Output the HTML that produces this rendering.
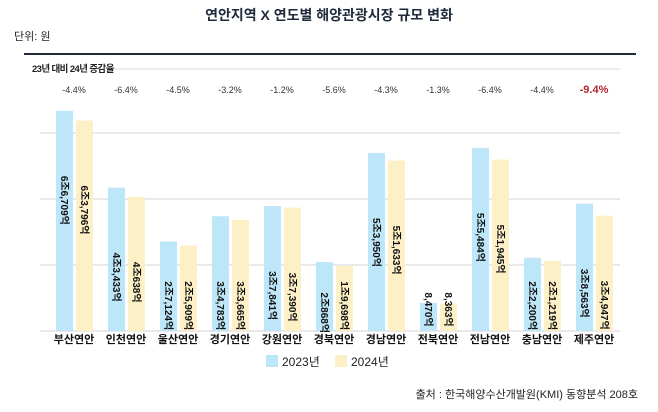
<!DOCTYPE html>
<html><head><meta charset="utf-8">
<style>
body{margin:0;background:#fff;}
svg text{font-family:"Liberation Sans","Noto Sans CJK KR",sans-serif;}
</style></head>
<body>
<svg width="658" height="407" viewBox="0 0 658 407">
<text x="329" y="20" text-anchor="middle" font-size="14" font-weight="bold" fill="#1f2a3a">연안지역 X 연도별 해양관광시장 규모 변화</text>
<text x="14" y="40" font-size="11" fill="#222">단위: 원</text>
<line x1="24" y1="54" x2="636" y2="54" stroke="#1f2a3a" stroke-width="2"/>
<line x1="98" y1="69" x2="620" y2="69" stroke="#e6e6e6" stroke-width="1.5"/>
<text x="32" y="72" font-size="9.5" font-weight="bold" fill="#222" letter-spacing="-0.6">23년 대비 24년 증감율</text>
<g id="grid"></g>
<g id="bars"></g>
<g id="labels"></g>
<rect x="266" y="355" width="12" height="12" fill="#bde6f8"/>
<text x="282" y="366" font-size="12" fill="#222">2023년</text>
<rect x="335" y="355" width="12" height="12" fill="#fdefc6"/>
<text x="351" y="366" font-size="12" fill="#222">2024년</text>
<text x="638" y="398" text-anchor="end" font-size="11" fill="#222">출처 : 한국해양수산개발원(KMI) 동향분석 208호</text>
</svg>
<script>
const categories=["부산연안","인천연안","울산연안","경기연안","강원연안","경북연안","경남연안","전북연안","전남연안","충남연안","제주연안"];
const values2023=[66709,43433,27124,34783,37841,20868,53950,8470,55484,22200,38563];
const values2024=[63796,40638,25909,33665,37390,19698,51633,8363,51945,21219,34947];
const labels2023=["6조6,709억","4조3,433억","2조7,124억","3조4,783억","3조7,841억","2조868억","5조3,950억","8,470억","5조5,484억","2조2,200억","3조8,563억"];
const labels2024=["6조3,796억","4조638억","2조5,909억","3조3,665억","3조7,390억","1조9,698억","5조1,633억","8,363억","5조1,945억","2조1,219억","3조4,947억"];
const changes=["-4.4%","-6.4%","-4.5%","-3.2%","-1.2%","-5.6%","-4.3%","-1.3%","-6.4%","-4.4%","-9.4%"];
const gridTicks=[20000,40000,60000];
const NS="http://www.w3.org/2000/svg";
const base=331, perUnit=66/20000;
const y=v=>base-v*perUnit;
const cx=i=>74+i*52;
function mk(tag,attrs,parent){const e=document.createElementNS(NS,tag);for(const k in attrs)e.setAttribute(k,attrs[k]);document.getElementById(parent).appendChild(e);return e;}
gridTicks.forEach(t=>{
  const l=mk('line',{x1:40,x2:620,y1:y(t),y2:y(t),stroke:'#e2e2e2','stroke-width':1.5},'grid');
  
  
});
const bl=mk('line',{x1:40,x2:620,y1:base,y2:base,stroke:'#e2e2e2','stroke-width':1.5},'grid');


function valueLabel(x,top,txt){
  const len=txt.length*5.6;
  let start=Math.min(top+65,326-len);
  const t=mk('text',{transform:`translate(${x-3.5},${start}) rotate(90)`,'font-size':10,'font-weight':'bold',fill:'#111'},'labels');
  t.textContent=txt;
  
  
}
categories.forEach((c,i)=>{
  const x=cx(i);
  const t1=y(values2023[i]), t2=y(values2024[i]);
  const b1=mk('rect',{x:x-18,y:t1,width:17,height:base-t1,fill:'#bde6f8'},'bars');
  
  
  const b2=mk('rect',{x:x+2,y:t2,width:17,height:base-t2,fill:'#fdefc6'},'bars');
  
  
  valueLabel(x-9.5,t1,labels2023[i]);
  valueLabel(x+10.5,t2,labels2024[i]);
  const cl=mk('text',{x:x,y:343,'text-anchor':'middle','font-size':11,'font-weight':'bold',fill:'#111'},'labels');
  cl.textContent=c;
  
  
  const red=changes[i]==="-9.4%";
  const pl=mk('text',{x:x,y:93,'text-anchor':'middle','font-size':red?11:9,'font-weight':red?'bold':'normal',fill:red?'#b3262a':'#333'},'labels');
  pl.textContent=changes[i];
  
  
});
</script>
</body></html>
